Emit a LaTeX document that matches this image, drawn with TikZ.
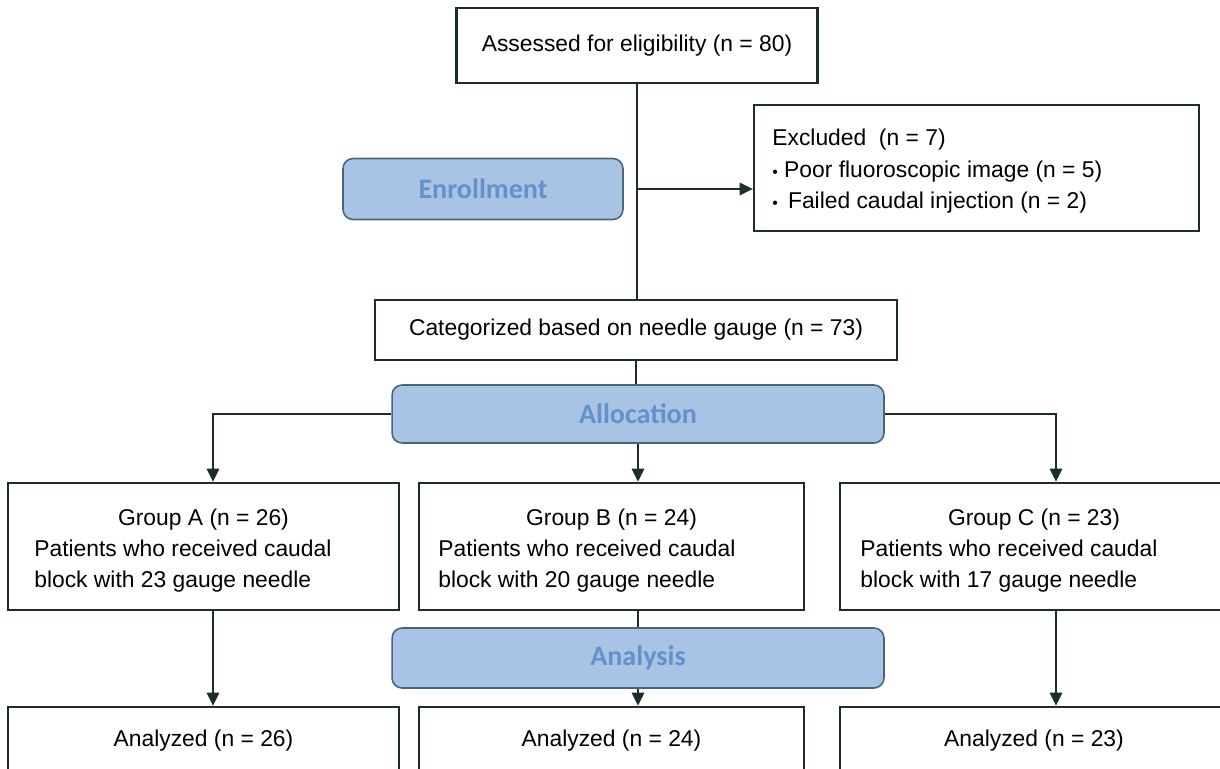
\documentclass[tikz,border=0pt]{standalone}
\usepackage{fontspec}
\setmainfont{Liberation Sans}
\newfontfamily\labfont{Carlito}
\usetikzlibrary{arrows.meta}
\definecolor{ln}{RGB}{28,45,45}
\definecolor{bfill}{RGB}{168,195,228}
\definecolor{bdraw}{RGB}{75,100,125}
\definecolor{btext}{RGB}{100,145,205}
\tikzset{
  txt/.style={inner sep=0pt, font=\fontsize{13}{17.4}\selectfont},
  box/.style={draw=ln, line width=1.35pt, fill=white, inner sep=0pt, font=\fontsize{13}{17.4}\selectfont},
  phase/.style={draw=bdraw, line width=0.9pt, fill=bfill, rounded corners=0.2cm, inner sep=0pt,
    text=btext, font=\labfont\bfseries\fontsize{16}{19}\selectfont},
  conn/.style={draw=ln, line width=1.15pt},
  arr/.style={conn, -{Triangle[length=7.5pt,width=7pt]}},
}
\begin{document}
\begin{tikzpicture}[x=0.02cm,y=-0.02cm]
\useasboundingbox (0,0) rectangle (1220,768);
\clip (0,0) rectangle (1220,768);
\fill[white] (0,0) rectangle (1220,768);

% boxes
\node[box, minimum width=7.22cm, minimum height=1.50cm] (assess) at (637,45.5) {Assessed for eligibility (n = 80)};
\node[phase, minimum width=5.60cm, minimum height=1.22cm] (enroll) at (483,189) {Enrollment};
\node[box, minimum width=8.90cm, minimum height=2.52cm] (excl) at (976.5,168) {};
\node[txt, anchor=west, align=left, font=\fontsize{13}{17.9}\selectfont] (excltxt) at (772,171.5)
  {Excluded~~(n = 7)\\{\small\textbullet}~Poor fluoroscopic image (n = 5)\\{\small\textbullet}~\,Failed caudal injection (n = 2)};
\node[box, minimum width=10.44cm, minimum height=1.20cm] (cat) at (636,330) {Categorized based on needle gauge (n = 73)};
\node[phase, minimum width=9.84cm, minimum height=1.16cm] (alloc) at (638,414) {Allocation};

\node[box, minimum width=7.82cm, minimum height=2.54cm] (grpA) at (203.5,546.5) {};
\node[box, minimum width=7.70cm, minimum height=2.54cm] (grpB) at (611.5,546.5) {};
\node[box, minimum width=7.76cm, minimum height=2.54cm] (grpC) at (1034,546.5) {};

\node[txt] (ta1) at (203.5,520) {Group A (n = 26)};
\node[txt, anchor=west, align=left] (ta2) at (34,566) {Patients who received caudal\\block with 23 gauge needle};
\node[txt] (tb1) at (611.5,520) {Group B (n = 24)};
\node[txt, anchor=west, align=left] (tb2) at (438,566) {Patients who received caudal\\block with 20 gauge needle};
\node[txt] (tc1) at (1034,520) {Group C (n = 23)};
\node[txt, anchor=west, align=left] (tc2) at (860,566) {Patients who received caudal\\block with 17 gauge needle};

\node[phase, minimum width=9.84cm, minimum height=1.20cm] (analysis) at (638,658) {Analysis};

\node[box, minimum width=7.82cm, minimum height=1.36cm] (anaA) at (203.5,741) {Analyzed (n = 26)};
\node[box, minimum width=7.70cm, minimum height=1.36cm] (anaB) at (611.5,741) {Analyzed (n = 24)};
\node[box, minimum width=7.76cm, minimum height=1.36cm] (anaC) at (1034,741) {Analyzed (n = 23)};

% connectors
\draw[conn] (assess.south) -- (assess.south |- cat.north);
\draw[arr] (enroll.east -| assess.south) -- (enroll.east -| excl.west);
\draw[conn] (cat.south) -- (cat.south |- alloc.north);
\draw[arr] (alloc.west) -| ([xshift=0.19cm]grpA.north);
\draw[arr] (alloc.east) -| ([xshift=0.44cm]grpC.north);
\draw[arr] (alloc.south) -- (alloc.south |- grpB.north);
\draw[arr] ([xshift=0.19cm]grpA.south) -- ([xshift=0.19cm]anaA.north);
\draw[arr] ([xshift=0.44cm]grpC.south) -- ([xshift=0.44cm]anaC.north);
\draw[draw=ln, line width=0.6pt] (alloc.south |- grpB.south) -- (alloc.south |- analysis.north);
\draw[arr] (analysis.south) -- (analysis.south |- anaB.north);
\end{tikzpicture}
\end{document}
